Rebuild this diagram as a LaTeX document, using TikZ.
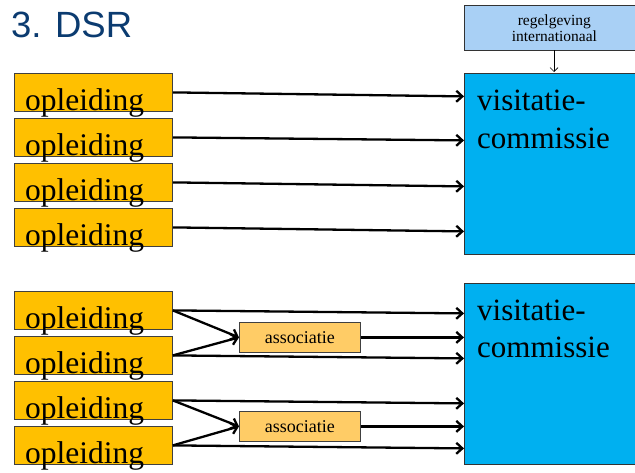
\documentclass[tikz,border=0pt]{standalone}
\usepackage{fontspec}
\setmainfont{Liberation Serif}
\newfontfamily\titlefont{Liberation Sans}
\usetikzlibrary{arrows.meta,calc}
\definecolor{opl}{HTML}{FFC000}
\definecolor{assoc}{HTML}{FFCC66}
\definecolor{visit}{HTML}{00B0F0}
\definecolor{regel}{HTML}{A9D0F5}
\definecolor{titleblue}{HTML}{0B3B70}
\tikzset{
  oplbox/.style={draw=black!75,line width=0.8pt,fill=opl,minimum width=158pt,minimum height=38pt,inner sep=0pt,anchor=north west},
  opltext/.style={anchor=base west,inner sep=0pt,font=\fontsize{31.5}{31.5}\selectfont},
  visbox/.style={draw=black!80,line width=0.8pt,fill=visit,minimum width=180pt,minimum height=181pt,inner sep=0pt,anchor=north west},
  vistext/.style={anchor=base west,inner sep=0pt,font=\fontsize{31}{31}\selectfont},
  assbox/.style={draw=black!75,line width=0.8pt,fill=assoc,minimum width=121pt,minimum height=30pt,inner sep=0pt,anchor=north west,font=\fontsize{18}{18}\selectfont},
  arr/.style={line width=2.3pt,-{Straight Barb[length=6pt,width=11pt]}},
}
\begin{document}
\begin{tikzpicture}[x=1pt,y=-1pt]
\useasboundingbox (0,0) rectangle (635,472);
% title
\node[anchor=base west,inner sep=0pt,text=titleblue,font=\titlefont\fontsize{36.5}{36.5}\selectfont] (title) at (11,37) {3. DSR};
% regelgeving
\node[draw=black!80,line width=0.8pt,fill=regel,minimum width=180pt,minimum height=45pt,inner sep=0pt,anchor=north west,align=center,font=\fontsize{15.5}{16}\selectfont] (reg) at (464,5) {regelgeving\\internationaal};
% visitatie boxes
\node[visbox] (v1) at (464,73) {};
\node[visbox] (v2) at (464,283) {};
\node[vistext] (v1a) at (477,110) {visitatie-};
\node[vistext] (v1b) at (477,148) {commissie};
\node[vistext] (v2a) at (477,320) {visitatie-};
\node[vistext] (v2b) at (477,357) {commissie};
% opleiding boxes top
\node[oplbox] (o1) at (14,73) {};
\node[oplbox] (o2) at (14,118) {};
\node[oplbox] (o3) at (14,163) {};
\node[oplbox] (o4) at (14,208) {};
% bottom
\node[oplbox] (o5) at (14,291) {};
\node[oplbox] (o6) at (14,336) {};
\node[oplbox] (o7) at (14,381) {};
\node[oplbox] (o8) at (14,426) {};
\foreach \n in {1,...,8}{
  \node[opltext] (t\n) at ($(o\n.south west)+(11,-1)$) {opleiding};
}
% associatie
\node[assbox] (a1) at (239,322) {associatie};
\node[assbox] (a2) at (239,411) {associatie};
% regelgeving arrow
\coordinate (rs) at (554,50);
\coordinate (re) at (554,72);
\draw[line width=0.7pt,-{Straight Barb[length=4pt,width=8pt]}] (rs) -- (re);
% top arrows
\draw[arr] (o1.east) -- ($(o1.east -| v1.west)+(0,4)$);
\draw[arr] (o2.east) -- ($(o2.east -| v1.west)+(0,3)$);
\draw[arr] (o3.east) -- ($(o3.east -| v1.west)+(0,4)$);
\draw[arr] (o4.east) -- ($(o4.east -| v1.west)+(0,4)$);
% bottom arrows
\draw[arr] (o5.east) -- ($(o5.east -| v2.west)+(0,3)$);
\draw[arr] (o6.east) -- ($(o6.east -| v2.west)+(0,3)$);
\draw[arr] (o7.east) -- ($(o7.east -| v2.west)+(0,3)$);
\draw[arr] (o8.east) -- ($(o8.east -| v2.west)+(0,3)$);
\draw[arr] (o5.east) -- (a1.west);
\draw[arr] (o6.east) -- (a1.west);
\draw[arr] (o7.east) -- (a2.west);
\draw[arr] (o8.east) -- (a2.west);
\draw[arr] (a1.east) -- (a1.east -| v2.west);
\draw[arr] (a2.east) -- (a2.east -| v2.west);
\end{tikzpicture}
\end{document}
